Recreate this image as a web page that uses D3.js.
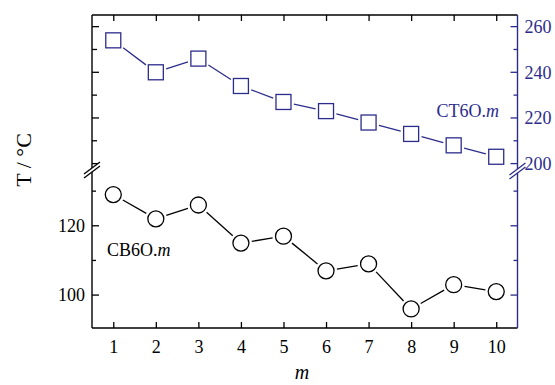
<!DOCTYPE html>
<html>
<head>
<meta charset="utf-8">
<script src="https://cdn.jsdelivr.net/npm/d3@7"></script>
<style>
  body { margin: 0; background: #fff; }
  svg { display: block; font-family: "Liberation Serif", "Times New Roman", serif; }
</style>
</head>
<body>
<svg id="chart" width="555" height="385"></svg>
<script>
const mValues = [1, 2, 3, 4, 5, 6, 7, 8, 9, 10];
const cb6o = [129, 122, 126, 115, 117, 107, 109, 96, 103, 101];
const ct6o = [254, 240, 246, 234, 227, 223, 218, 213, 208, 203];
const leftTicks = [100, 110, 120, 130];
const leftLabels = [100, 120];
const rightTicks = [200, 210, 220, 230, 240, 250, 260];
const rightLabels = [200, 220, 240, 260];

const blue = "#2c2c8c";
const svg = d3.select("svg#chart");
const pLeft = 92, pRight = 517.5, pTop = 15, pBottom = 328, brk = 170;

const x = d3.scaleLinear().domain([0.5, 10.5]).range([pLeft, pRight]);
const yL = d3.scaleLinear().domain([90.5, 136.1]).range([pBottom, brk]);
const yR = d3.scaleLinear().domain([197.2, 265.1]).range([brk, pTop]);

// frame
svg.append("line").attr("x1", pLeft).attr("x2", pRight).attr("y1", pTop).attr("y2", pTop)
  .attr("stroke", "#000").attr("stroke-width", 1.4);
svg.append("line").attr("x1", pLeft).attr("x2", pRight).attr("y1", pBottom).attr("y2", pBottom)
  .attr("stroke", "#000").attr("stroke-width", 1.4);
svg.append("line").attr("x1", pLeft).attr("x2", pLeft).attr("y1", pTop).attr("y2", pBottom)
  .attr("stroke", "#000").attr("stroke-width", 1.4);
svg.append("line").attr("x1", pRight).attr("x2", pRight).attr("y1", pTop).attr("y2", pBottom)
  .attr("stroke", blue).attr("stroke-width", 1.4);

// bottom axis with labels, ticks inward
const xAxis = svg.append("g")
  .attr("transform", `translate(0,${pBottom})`)
  .call(d3.axisBottom(x).tickValues(mValues).tickSizeInner(-6).tickSizeOuter(0).tickPadding(12));
xAxis.select(".domain").remove();
xAxis.selectAll("text").attr("font-size", 18).attr("font-family", "Liberation Serif").attr("fill", "#000");
xAxis.selectAll("line").attr("stroke-width", 1.3);

// top axis: ticks only
const xTop = svg.append("g")
  .attr("transform", `translate(0,${pTop})`)
  .call(d3.axisTop(x).tickValues(mValues).tickSizeInner(-6).tickSizeOuter(0).tickFormat(""));
xTop.select(".domain").remove();
xTop.selectAll("line").attr("stroke-width", 1.3);

// left axis, lower segment (CB6O.m)
leftTicks.forEach((v) => {
  const major = leftLabels.includes(v);
  svg.append("line").attr("x1", pLeft).attr("x2", pLeft + (major ? 7 : 4))
    .attr("y1", yL(v)).attr("y2", yL(v)).attr("stroke", "#000").attr("stroke-width", 1.3);
  svg.append("line").attr("x1", pRight).attr("x2", pRight - (major ? 7 : 4))
    .attr("y1", yL(v)).attr("y2", yL(v)).attr("stroke", blue).attr("stroke-width", 1.3);
});
svg.selectAll("text.ylab").data(leftLabels).enter().append("text")
  .attr("class", "ylab")
  .attr("x", pLeft - 7).attr("y", (d) => yL(d))
  .attr("dy", "0.35em").attr("text-anchor", "end")
  .attr("font-size", 18).text((d) => d);

// right axis, upper segment (CT6O.m)
rightTicks.forEach((v) => {
  const major = rightLabels.includes(v);
  svg.append("line").attr("x1", pRight).attr("x2", pRight - (major ? 7 : 4))
    .attr("y1", yR(v)).attr("y2", yR(v)).attr("stroke", blue).attr("stroke-width", 1.3);
  svg.append("line").attr("x1", pLeft).attr("x2", pLeft + (major ? 7 : 5))
    .attr("y1", yR(v)).attr("y2", yR(v)).attr("stroke", "#000").attr("stroke-width", 1.3);
});
svg.selectAll("text.yrlab").data(rightLabels).enter().append("text")
  .attr("class", "yrlab")
  .attr("x", pRight + 7).attr("y", (d) => yR(d))
  .attr("dy", "0.35em").attr("text-anchor", "start")
  .attr("font-size", 18).attr("fill", blue).text((d) => d);

// axis breaks
function breakMark(cx, cy, color) {
  svg.append("polygon")
    .attr("points", `${cx - 8},${cy + 4} ${cx + 8},${cy - 8} ${cx + 8},${cy - 4} ${cx - 8},${cy + 8}`)
    .attr("fill", "#fff");
  [-2, 2].forEach((o) => {
    svg.append("line")
      .attr("x1", cx - 8).attr("y1", cy + 6 + o)
      .attr("x2", cx + 8).attr("y2", cy - 6 + o)
      .attr("stroke", color).attr("stroke-width", 1.3);
  });
}
breakMark(pLeft, brk, "#000");
breakMark(pRight, brk + 1, blue);

// connector lines with gap to symbols
function connectors(vals, yScale, color, halfFn) {
  for (let i = 0; i < vals.length - 1; i++) {
    const x1 = x(mValues[i]), y1 = yScale(vals[i]);
    const x2 = x(mValues[i + 1]), y2 = yScale(vals[i + 1]);
    const dx = x2 - x1, dy = y2 - y1, len = Math.hypot(dx, dy);
    const ux = dx / len, uy = dy / len;
    const g = halfFn(ux, uy) + 3;
    if (len > 2 * g) {
      svg.append("line")
        .attr("x1", x1 + ux * g).attr("y1", y1 + uy * g)
        .attr("x2", x2 - ux * g).attr("y2", y2 - uy * g)
        .attr("stroke", color).attr("stroke-width", 1.3);
    }
  }
}
const rC = 8, hS = 7.5;
connectors(cb6o, yL, "#000", () => rC);
connectors(ct6o, yR, blue, (ux, uy) => hS / Math.max(Math.abs(ux), Math.abs(uy)));

svg.selectAll("circle.cb").data(cb6o).enter().append("circle")
  .attr("class", "cb")
  .attr("cx", (d, i) => x(mValues[i])).attr("cy", (d) => yL(d))
  .attr("r", rC).attr("fill", "none").attr("stroke", "#000").attr("stroke-width", 1.3);

svg.selectAll("rect.ct").data(ct6o).enter().append("rect")
  .attr("class", "ct")
  .attr("x", (d, i) => x(mValues[i]) - hS).attr("y", (d) => yR(d) - hS)
  .attr("width", 2 * hS).attr("height", 2 * hS)
  .attr("fill", "none").attr("stroke", blue).attr("stroke-width", 1.3);

// series labels
const t1 = svg.append("text").attr("x", 107).attr("y", 256).attr("font-size", 18);
t1.append("tspan").text("CB6O.");
t1.append("tspan").attr("font-style", "italic").text("m");

const t2 = svg.append("text").attr("x", 499).attr("y", 116.5).attr("font-size", 18)
  .attr("text-anchor", "end").attr("fill", blue);
t2.append("tspan").text("CT6O.");
t2.append("tspan").attr("font-style", "italic").text("m");

// axis titles
svg.append("text")
  .attr("transform", "translate(31,160) rotate(-90)")
  .attr("text-anchor", "middle").attr("font-size", 22)
  .text("T / °C");

svg.append("text")
  .attr("x", 302).attr("y", 379)
  .attr("text-anchor", "middle").attr("font-size", 20).attr("font-style", "italic")
  .text("m");
</script>
</body>
</html>
